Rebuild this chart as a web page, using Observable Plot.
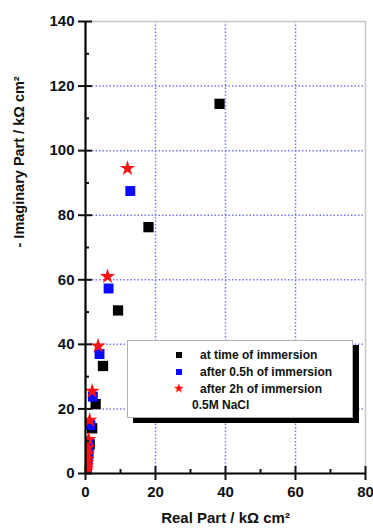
<!DOCTYPE html>
<html><head><meta charset="utf-8">
<script src="https://cdn.jsdelivr.net/npm/d3@7"></script>
<script src="https://cdn.jsdelivr.net/npm/@observablehq/plot@0.6"></script>
<style>
body{margin:0;background:#fff;}
#wrap{position:relative;width:373px;height:529px;}
.legend{position:absolute;left:127px;top:340px;width:224px;height:76px;background:#fff;border:1px solid #b0b0b0;box-shadow:6px 5px 0 #000;font:bold 12px "Liberation Sans",Arial,sans-serif;color:#111;}
.row{position:absolute;left:0;height:14px;line-height:14px;white-space:nowrap;}
.sym{position:absolute;left:48px;top:4px;width:6px;height:6px;}
.star{position:absolute;left:46px;top:-1px;color:#ff1010;font-size:11px;}
.txt{position:absolute;left:72px;}
</style></head>
<body><div id="wrap"></div>
<script>
// Series: at time of immersion (black squares)
const immX = [38.3, 18.0, 9.3, 5.0, 2.9, 1.9, 1.2, 0.8, 0.5, 0.3, 0.2];
const immY = [114.5, 76.3, 50.5, 33.3, 21.5, 14.0, 9.0, 6.0, 4.0, 2.5, 1.5];
// after 0.5h of immersion (blue squares)
const h05X = [12.8, 6.6, 4.0, 2.1, 1.4, 1.0, 0.8, 0.6, 0.45, 0.35, 0.25];
const h05Y = [87.5, 57.3, 37.0, 23.8, 15.0, 9.5, 6.5, 4.5, 3.0, 2.0, 1.0];
// after 2h of immersion (red stars)
const h2X = [12.0, 6.3, 3.6, 1.9, 1.2, 0.9, 0.75, 0.6, 0.5, 0.4, 0.35, 0.3, 0.25];
const h2Y = [94.5, 61.0, 39.5, 25.5, 16.5, 10.5, 8.0, 6.0, 4.5, 3.3, 2.3, 1.5, 0.8];

const xTicks = [0, 20, 40, 60, 80];
const xMinor = [10, 30, 50, 70];
const yTicks = [0, 20, 40, 60, 80, 100, 120, 140];
const yMinor = [10, 30, 50, 70, 90, 110, 130];
const xGrid = [20, 40, 60];
const yGrid = [20, 40, 60, 80, 100, 120];

const xLabel = "Real Part / kΩ cm²";
const yLabel = "- Imaginary Part / kΩ cm²";
const legendItems = ["at time of immersion", "after 0.5h of immersion", "after 2h of immersion"];
const legendNote = "0.5M NaCl";

const toPts = (xs, ys) => xs.map((x, i) => ({x, y: ys[i]}));
const imm = toPts(immX, immY), h05 = toPts(h05X, h05Y), h2 = toPts(h2X, h2Y);

const font = '"Liberation Sans", Arial, sans-serif';
const gridStyle = {stroke: "#7878ff", strokeDasharray: "1.5,2", strokeWidth: 1.5};

const chart = Plot.plot({
  width: 373, height: 529,
  marginLeft: 85, marginRight: 8, marginTop: 21, marginBottom: 56,
  style: {fontFamily: font, fontWeight: "bold", fontSize: "15px", background: "#fff", color: "#111"},
  x: {domain: [0, 80]},
  y: {domain: [0, 140]},
  marks: [
    Plot.ruleX(xGrid, gridStyle),
    Plot.ruleY(yGrid, gridStyle),
    Plot.ruleY([140], {stroke: "#c8c8c8", strokeWidth: 1.5}),
    Plot.ruleX([80], {stroke: "#c8c8c8", strokeWidth: 1.5}),
    Plot.dot(imm, {x: "x", y: "y", symbol: "square", r: 5.8, fill: "#000", clip: true}),
    Plot.dot(h05, {x: "x", y: "y", symbol: "square", r: 5.6, fill: "#0a0aff", clip: true}),
    Plot.dot(h2, {x: "x", y: "y", symbol: "star", r: 4.8, fill: "#ff1010", clip: true}),
    Plot.ruleX([0], {stroke: "#000", strokeWidth: 2.2}),
    Plot.ruleY([0], {stroke: "#000", strokeWidth: 2.2}),
    // major ticks crossing the axis
    Plot.axisX({ticks: xTicks, tickSize: 14, dy: -7, strokeWidth: 2, tickFormat: () => "", label: null}),
    Plot.axisY({ticks: yTicks, tickSize: 14, dx: 7, strokeWidth: 2, tickFormat: () => "", label: null}),
    // minor ticks inward
    Plot.axisX({ticks: xMinor, tickSize: 4, dy: -4, strokeWidth: 2, tickFormat: () => "", label: null}),
    Plot.axisY({ticks: yMinor, tickSize: 4, dx: 4, strokeWidth: 2, tickFormat: () => "", label: null}),
    // tick labels
    Plot.axisX({ticks: xTicks, tickSize: 0, tickPadding: 13, fontSize: 15, fontWeight: "bold", label: null}),
    Plot.axisY({ticks: yTicks, tickSize: 0, tickPadding: 11, fontSize: 15, fontWeight: "bold", label: null}),
    // axis titles
    Plot.text([xLabel], {text: d => d, frameAnchor: "bottom", dy: 49, fontSize: 15, fontWeight: "bold", fill: "#111"}),
    Plot.text([yLabel], {text: d => d, frameAnchor: "left", dx: -66, rotate: -90, fontSize: 14.5, fontWeight: "bold", fill: "#111"})
  ]
});
const wrap = document.getElementById("wrap");
wrap.appendChild(chart);

const leg = document.createElement("div");
leg.className = "legend";
const colors = ["#000", "#0a0aff", null];
const tops = [7, 24, 41];
legendItems.forEach((label, i) => {
  const r = document.createElement("div");
  r.className = "row"; r.style.top = tops[i] + "px"; r.style.width = "224px";
  const s = document.createElement("span");
  if (colors[i]) { s.className = "sym"; s.style.background = colors[i]; }
  else { s.className = "star"; s.textContent = "★"; }
  const t = document.createElement("span");
  t.className = "txt"; t.textContent = label;
  r.appendChild(s); r.appendChild(t); leg.appendChild(r);
});
const n = document.createElement("div");
n.className = "row"; n.style.top = "57px"; n.style.left = "64px"; n.textContent = legendNote;
leg.appendChild(n);
wrap.appendChild(leg);
</script></body></html>
